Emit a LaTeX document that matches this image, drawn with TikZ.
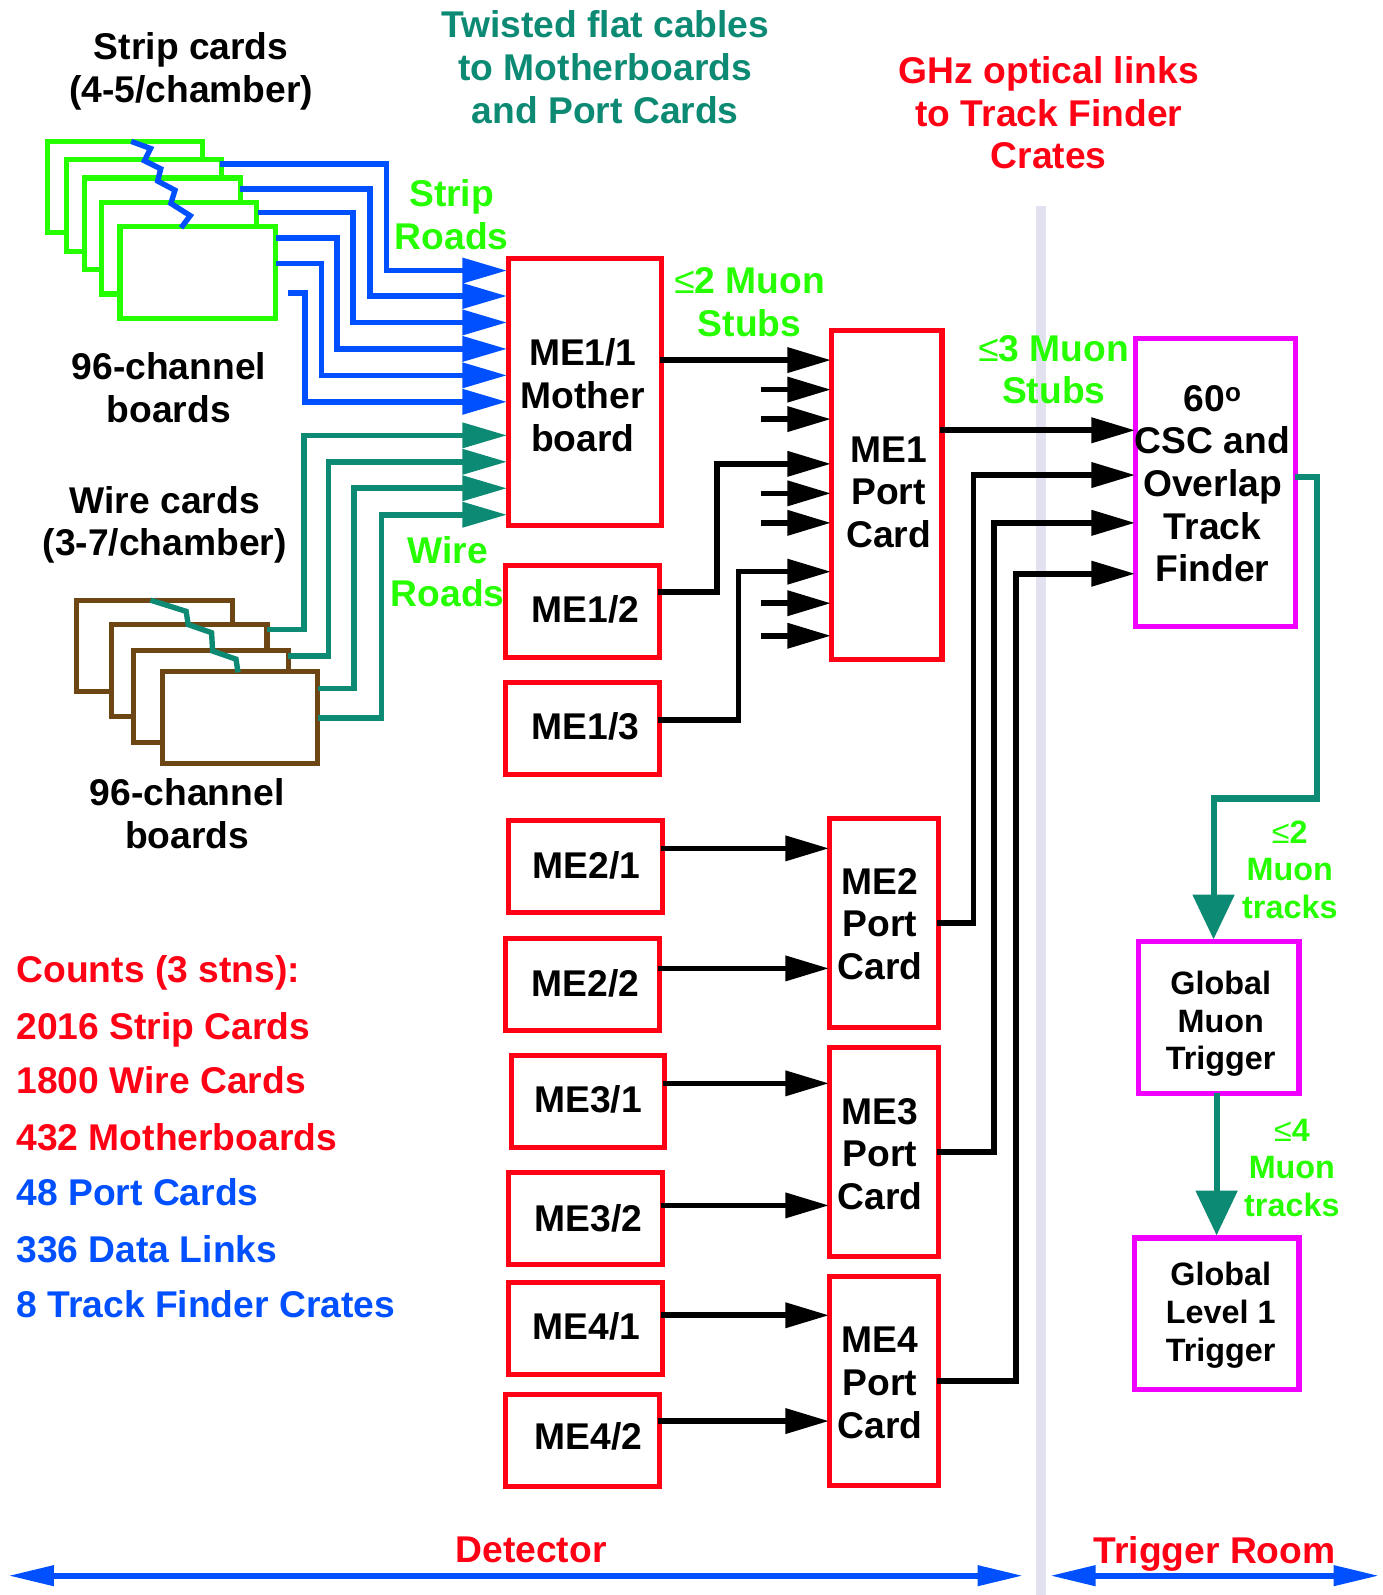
\documentclass[tikz,border=0pt]{standalone}
\usepackage{fontspec}
\setmainfont{Liberation Sans}
\usetikzlibrary{arrows.meta,positioning}
\definecolor{roadgreen}{RGB}{38,255,0}
\definecolor{roadblue}{RGB}{0,80,255}
\definecolor{cabteal}{RGB}{13,138,115}
\definecolor{cardbrown}{RGB}{110,70,20}
\definecolor{boxred}{RGB}{255,0,20}
\definecolor{boxmag}{RGB}{240,0,255}
\definecolor{barlav}{RGB}{225,225,240}
\tikzset{
  lbl/.style={font=\fontsize{36.6}{42}\selectfont\bfseries,align=center,inner sep=0pt},
  lbls/.style={font=\fontsize{31.8}{37}\selectfont\bfseries,align=center,inner sep=0pt},
  cnt/.style={font=\fontsize{36.6}{42}\selectfont\bfseries,anchor=west,inner sep=0pt},
  card/.style={draw,fill=white,line width=5pt,minimum width=153pt,minimum height=90pt,inner sep=0pt},
  me/.style={draw=boxred,line width=5pt,minimum width=151pt,minimum height=90pt,inner sep=0pt},
  pcard/.style={me,minimum width=108pt,minimum height=205pt},
  tf/.style={draw=boxmag,line width=5pt,inner sep=0pt},
  txt/.style args={#1/#2/#3}{label={[lbl,xshift=#1pt,yshift=#2pt]center:{#3}}},
  txts/.style args={#1/#2/#3}{label={[lbls,xshift=#1pt,yshift=#2pt]center:{#3}}},
  road/.style={line width=5.5pt,shorten >=-1.5pt,-{Triangle[length=44pt,width=24pt]}},
  conn/.style={black,line width=5.5pt,shorten <=-4pt,shorten >=-2.5pt,-{Triangle[length=43pt,width=24pt]}},
  trk/.style={cabteal,line width=6pt,shorten <=-3pt,-{Triangle[length=44pt,width=40pt]}},
  span/.style={roadblue,line width=6pt,{Triangle[length=45pt,width=19pt]}-{Triangle[length=45pt,width=19pt]}},
  squig/.style={line width=5.3pt},
}
\begin{document}
\begin{tikzpicture}[x=1pt,y=-1pt]
  \useasboundingbox (0,0) rectangle (1359,1568);
  \fill[barlav] (1018,203) rectangle (1028,1568);

  % headings
  \node[lbl] (stripttl) at (188,70) {Strip cards\\(4-5/chamber)};
  \node[lbl,cabteal] (cabttl) at (595,66) {Twisted flat cables\\to Motherboards\\and Port Cards};
  \node[lbl,boxred] (optttl) at (1031,111) {GHz optical links\\to Track Finder\\Crates};
  \node[lbl,roadgreen] (stripro) at (444,211) {Strip\\Roads};
  \node[lbl] (stripch) at (166,381) {96-channel\\boards};
  \node[lbl] (wirettl) at (162,516) {Wire cards\\(3-7/chamber)};
  \node[lbl,roadgreen] (wirero) at (440,562) {Wire\\Roads};
  \node[lbl] (wirech) at (184,800) {96-channel\\boards};
  \node[lbl,roadgreen] (stubsa) at (737,297) {{\mdseries ≤}2 Muon\\Stubs};
  \node[lbl,roadgreen] (stubsb) at (1036,363.5) {{\mdseries ≤}3 Muon\\Stubs};

  % strip cards, back to front
  \foreach \x/\y [count=\i] in {123/184,141.5/202,159.5/220,176/244,194.5/268}
    \node[card,draw=roadgreen] (strip\i) at (\x,\y) {};
  \draw[squig,roadblue] (129,139) -- (148,146) -- (142,158) -- (158,166) -- (155,178)
    -- (172,187) -- (168,200) -- (187,212) -- (178,224);

  % wire cards, back to front
  \foreach \x/\y [count=\i] in {152/635,186/659,207.5/684.5,236/705.5}
    \node[card,draw=cardbrown] (wire\i) at (\x,\y) {};
  \draw[squig,cabteal] (148,590) -- (183,601) -- (185,614) -- (208,622) -- (209,640)
    -- (232,648) -- (234,661);

  % front end boards
  \node[me,minimum height=263pt,txt={-2/-3/ME1/1\\Mother\\board}] (mb) at (575,385.5) {};
  \node[me,txt={3/2/ME1/2}] (me12) at (572.5,601) {};
  \node[me,below=20pt of me12,txt={3/2/ME1/3}] (me13) {};
  \node[me,txt={1/1/ME2/1}] (me21) at (575.5,852) {};
  \node[me,below=21pt of me21,xshift=-3pt,txt={3/1/ME2/2}] (me22) {};
  \node[me,txt={0/2/ME3/1}] (me31) at (578,1083) {};
  \node[me,below=20pt of me31,xshift=-2.5pt,txt={3/0/ME3/2}] (me32) {};
  \node[me,txt={1/2/ME4/1}] (me41) at (575.5,1306) {};
  \node[me,below=15pt of me41,xshift=-3pt,txt={6/4/ME4/2}] (me42) {};

  % port cards
  \node[pcard,minimum width=109pt,minimum height=323pt,txt={2/2.5/ME1\\Port\\Card}] (pc1) at (871.5,486.5) {};
  \node[pcard,txt={-4/-1/ME2\\Port\\Card}] (pc2) at (869,907.5) {};
  \node[pcard,below=15pt of pc2,txt={-4/-2/ME3\\Port\\Card}] (pc3) {};
  \node[pcard,below=15pt of pc3,txt={-4/-2/ME4\\Port\\Card}] (pc4) {};

  % trigger room
  \node[tf,minimum width=158pt,minimum height=283pt,txt={-3/-1/60\textsuperscript{o}\\CSC and\\Overlap\\Track\\Finder}] (tfbox) at (1195,474.5) {};
  \node[tf,minimum width=158pt,minimum height=149pt,txts={2/-6/Global\\Muon\\Trigger}] (gmt) at (1198,1000.5) {};
  \node[tf,minimum width=162pt,minimum height=149pt,txts={4/-1.5/Global\\Level 1\\Trigger}] (gl1) at (1196,1291.5) {};
  \node[lbls,roadgreen] (trka) at (1268,855) {{\mdseries ≤}2\\Muon\\tracks};
  \node[lbls,roadgreen] (trkb) at (1270,1148) {{\mdseries ≤}4\\Muon\\tracks};

  % strip and wire roads
  \foreach \xs/\ys/\xm/\yt [count=\i] in {216/161/380/266,236/186/364/291,254/209/347/317,
      271/234/331/343,271/259/316/369,283/288/300/395} {
    \coordinate (sout\i) at (\xs,\ys);
    \draw[road,roadblue] (sout\i) -| (\xm,\yt) -- (mb.west |- 0,\yt);
  }
  \foreach \xs/\ys/\xm/\yt [count=\i] in {262/619/299/428,283/645/323/454,313/677/348/480,313/706/375/506} {
    \coordinate (wout\i) at (\xs,\ys);
    \draw[road,cabteal] (wout\i) -| (\xm,\yt) -- (mb.west |- 0,\yt);
  }

  % muon stubs
  \draw[conn] (mb.east |- 0,354) -- (pc1.west |- 0,354);
  \draw[conn] (me12.east |- 0,582) -| (705,456) -- (pc1.west |- 0,456);
  \draw[conn] (me13.east |- 0,708) -| (726,562) -- (pc1.west |- 0,562);
  \foreach \ys [count=\i] in {383,412,485,514,593,625} {
    \coordinate (stub\i) at (752,\ys);
    \draw[conn] (stub\i) -- (stub\i -| pc1.west);
  }
  \draw[conn] (me21.east |- 0,834) -- (pc2.west |- 0,834);
  \draw[conn] (me22.east |- 0,952) -- (pc2.west |- 0,952);
  \draw[conn] (me31.east |- 0,1065) -- (pc3.west |- 0,1065);
  \draw[conn] (me32.east |- 0,1185) -- (pc3.west |- 0,1185);
  \draw[conn] (me41.east |- 0,1293) -- (pc4.west |- 0,1293);
  \draw[conn] (me42.east |- 0,1397) -- (pc4.west |- 0,1397);

  % to track finder
  \draw[conn] (pc1.east |- 0,423) -- (tfbox.west |- 0,423);
  \draw[conn] (pc2.east) -| (957,467) -- (tfbox.west |- 0,467);
  \draw[conn] (pc3.east) -| (977,514) -- (tfbox.west |- 0,514);
  \draw[conn] (pc4.east) -| (999,564) -- (tfbox.west |- 0,564);

  % muon tracks
  \draw[trk] (tfbox.east |- 0,469) -| (1295,785) -| (gmt.north -| 1193,0);
  \draw[trk] (gmt.south -| 1196,0) -- (gl1.north -| 1196,0);

  % counts
  \node[cnt,boxred] (cnt1) at (16,956) {Counts (3 stns):};
  \node[cnt,boxred] (cnt2) at (16,1012) {2016 Strip Cards};
  \node[cnt,boxred] (cnt3) at (16,1062) {1800 Wire Cards};
  \node[cnt,boxred] (cnt4) at (16,1118) {432 Motherboards};
  \node[cnt,roadblue] (cnt5) at (16,1172) {48 Port Cards};
  \node[cnt,roadblue] (cnt6) at (16,1228) {336 Data Links};
  \node[cnt,roadblue] (cnt7) at (16,1282) {8 Track Finder Crates};

  % regions
  \node[lbl,boxred] (det) at (522,1524) {Detector};
  \node[lbl,boxred] (trg) at (1194,1528) {Trigger Room};
  \coordinate (detl) at (8,1549);
  \coordinate (detr) at (1006,1549);
  \coordinate (trgl) at (1032,1549);
  \coordinate (trgr) at (1356,1549);
  \draw[span] (detl) -- (detr);
  \draw[span] (trgl) -- (trgr);
\end{tikzpicture}
\end{document}
